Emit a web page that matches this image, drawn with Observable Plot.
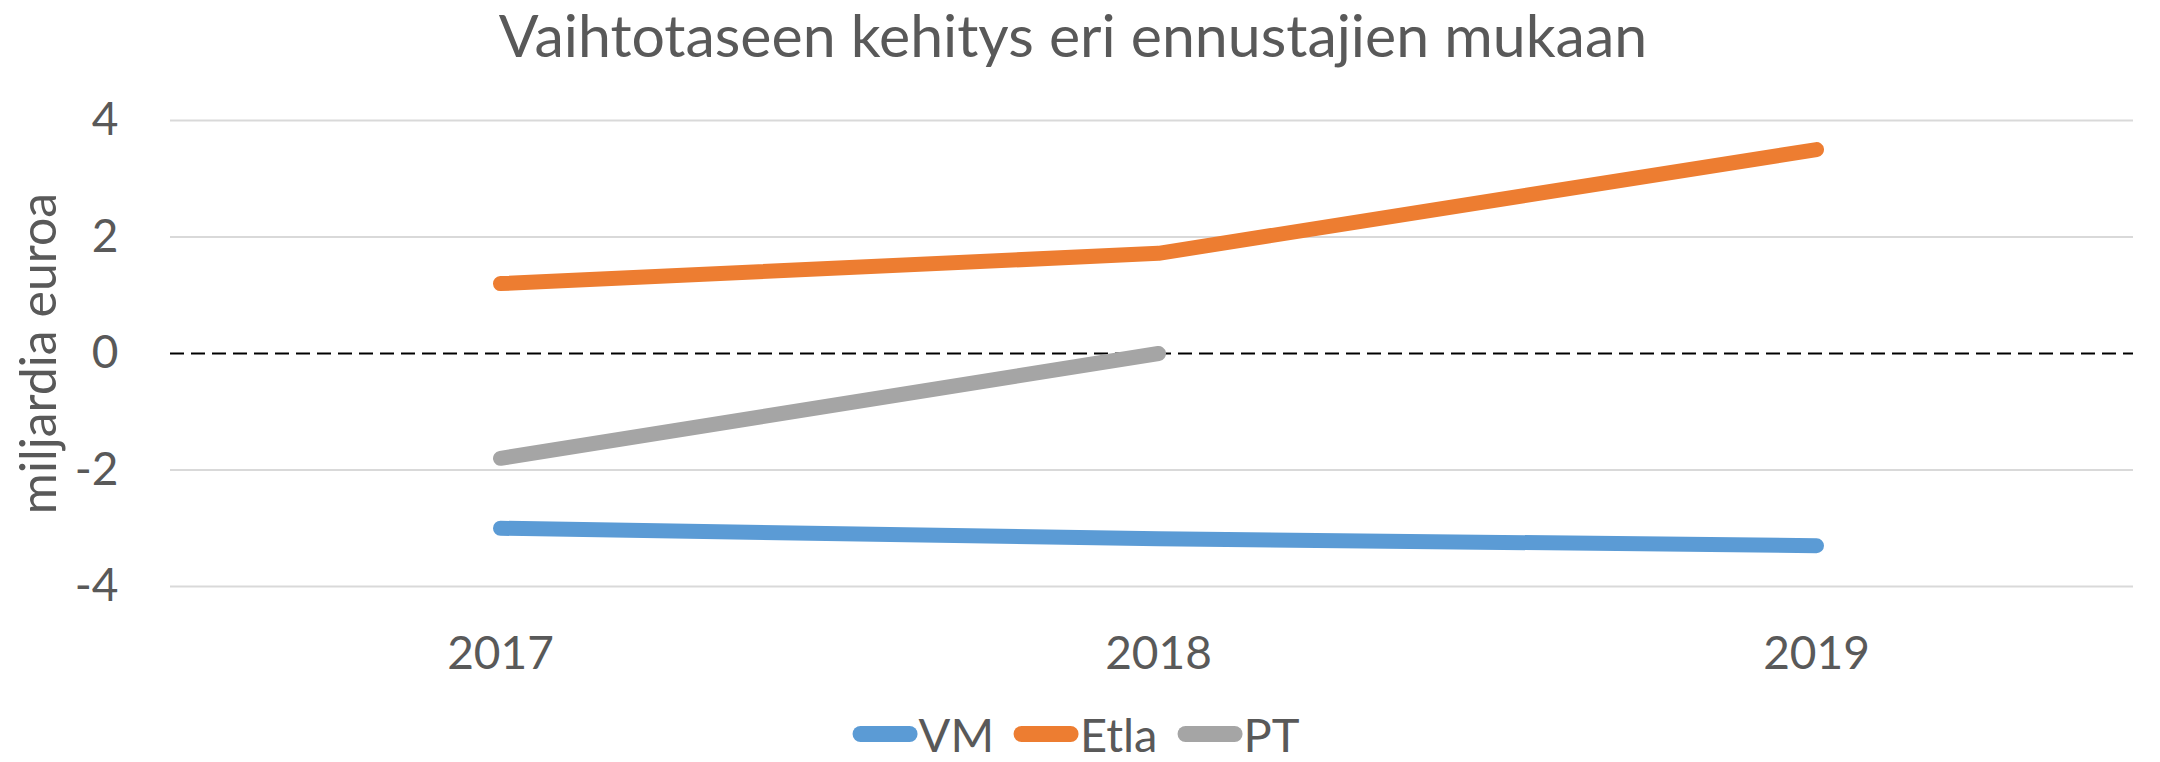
<!DOCTYPE html>
<html>
<head>
<meta charset="utf-8">
<script src="https://cdn.jsdelivr.net/npm/d3@7"></script>
<script src="https://cdn.jsdelivr.net/npm/@observablehq/plot@0.6"></script>
<style>
  html, body { margin: 0; padding: 0; background: #fff; }
  body { width: 2160px; height: 762px; overflow: hidden; font-family: Lato, "Open Sans", sans-serif; color: #595959; }
  #title { height: 90px; position: relative; }
  #title span { position: absolute; left: 1073px; top: 5px; transform: translateX(-50%); font-size: 59px; line-height: 1; white-space: nowrap; }
  #legend { height: 62px; position: relative; }
  #legend .items { position: absolute; left: 1076px; top: 13px; transform: translateX(-50%); display: flex; align-items: center; white-space: nowrap; font-size: 47px; line-height: 0.9; }
  #legend .sw { display: inline-block; width: 65px; height: 16px; border-radius: 8px; margin-right: 1px; }
  #legend .it { display: flex; align-items: center; margin-right: 20px; }
  #legend .it:last-child { margin-right: 0; }
</style>
</head>
<body>
<div id="title"><span>Vaihtotaseen kehitys eri ennustajien mukaan</span></div>
<div id="chart"></div>
<div id="legend"><div class="items"></div></div>
<script>
const years = ["2017", "2018", "2019"];
const seriesNames = ["VM", "Etla", "PT"];
const seriesColors = ["#5B9BD5", "#ED7D31", "#A5A5A5"];
const vmValues = [-3.0, -3.18, -3.3];
const etlaValues = [1.2, 1.72, 3.5];
const ptValues = [-1.8, 0.0, null];
const yTicks = [-4, -2, 0, 2, 4];
const yLabel = "miljardia euroa";

const valuesBySeries = [vmValues, etlaValues, ptValues];
const data = [];
seriesNames.forEach((s, i) => {
  valuesBySeries[i].forEach((v, j) => {
    if (v != null) data.push({series: s, year: years[j], value: v});
  });
});

const plot = Plot.plot({
  width: 2160,
  height: 610,
  marginLeft: 170,
  marginRight: 27,
  marginTop: 30,
  marginBottom: 114,
  style: {fontFamily: "Lato, 'Open Sans', sans-serif", color: "#595959", background: "#fff"},
  x: {type: "point", domain: years, padding: 0.49, align: 0.51},
  y: {domain: [-4, 4]},
  color: {domain: seriesNames, range: seriesColors},
  marks: [
    Plot.gridY(yTicks.filter(d => d !== 0), {stroke: "#D9D9D9", strokeOpacity: 1, strokeWidth: 2}),
    Plot.axisY(yTicks, {tickSize: 0, tickPadding: 52, fontSize: 46, label: null, fill: "#595959", tickFormat: d => String(d)}),
    Plot.axisX(years, {tickSize: 0, tickPadding: 50, fontSize: 46, label: null, fill: "#595959"}),
    Plot.ruleY([0], {stroke: "#000", strokeWidth: 2, strokeDasharray: "14,7"}),
    Plot.line(data, {x: "year", y: "value", z: "series", stroke: "series", strokeWidth: 15, strokeLinecap: "round", strokeLinejoin: "round"}),
    Plot.text([yLabel], {frameAnchor: "left", textAnchor: "middle", lineAnchor: "middle", rotate: -90, dx: -131, fontSize: 50, fill: "#595959"})
  ]
});
document.getElementById("chart").appendChild(plot);

const legendItems = document.querySelector("#legend .items");
seriesNames.forEach((s, i) => {
  const it = document.createElement("div");
  it.className = "it";
  const sw = document.createElement("span");
  sw.className = "sw";
  sw.style.background = seriesColors[i];
  const t = document.createElement("span");
  t.textContent = s;
  it.appendChild(sw);
  it.appendChild(t);
  legendItems.appendChild(it);
});
</script>
</body>
</html>
